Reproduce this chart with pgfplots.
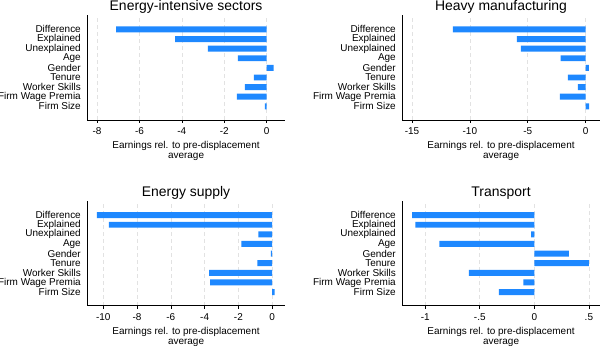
\documentclass[border=0pt]{standalone}
\usepackage{pgfplots}
\pgfplotsset{compat=1.18}
\usepackage{fontspec}
\setmainfont{Liberation Sans}
\definecolor{barblue}{RGB}{30,136,255}
\definecolor{gridgray}{RGB}{226,226,226}
\pgfplotsset{
  every axis title/.style={at={(0.5,1)}, anchor=base, yshift=4bp, font=\fontsize{14}{16}\selectfont},
  panel/.style={
    scale only axis, width=197.5bp, height=105bp, anchor=south west,
    xbar, bar width=0.62,
    axis x line*=bottom, axis y line*=left,
    axis line style={-, black, line width=0.8bp},
    ymin=-0.42, ymax=10.5,
    ytick={1,...,9},
    yticklabels={Firm Size, Firm Wage Premia, Worker Skills, Tenure, Gender, Age, Unexplained, Explained, Difference},
    y tick style={draw=none},
    ytick pos=left, xtick pos=bottom,
    x tick style={black, line width=0.6bp},
    tick align=outside, major tick length=3bp,
    xmajorgrids,
    grid style={gridgray, dash pattern=on 4bp off 3bp, line width=0.6bp},
    tick label style={font=\fontsize{10}{11}\selectfont},
    xticklabel style={yshift=-1bp},
    /pgf/number format/assume math mode=true,
    xlabel={Earnings rel. to pre-displacement\\average},
    xlabel style={align=center, font=\fontsize{10}{10}\selectfont, at={(axis description cs:0.5,0)}, anchor=north, yshift=-18bp},
  },
  bars/.style={fill=barblue, draw=none},
}
\begin{document}
\begin{tikzpicture}
\useasboundingbox (0,0) rectangle (600bp,346bp);
% Panel 1
\begin{axis}[panel, at={(87.3bp,226bp)}, title={Energy-intensive sectors},
  xmin=-8.46, xmax=0.86, xtick={-8,-6,-4,-2,0}, xticklabels={-8,-6,-4,-2,0}]
\addplot[bars] coordinates {(-7.10,9) (-4.32,8) (-2.77,7) (-1.35,6) (0.33,5) (-0.60,4) (-1.02,3) (-1.40,2) (-0.08,1)};
\end{axis}
% Panel 2
\begin{axis}[panel, at={(402.3bp,226bp)}, title={Heavy manufacturing},
  xmin=-15.84, xmax=1.23, xtick={-15,-10,-5,0}, xticklabels={-15,-10,-5,0}]
\addplot[bars] coordinates {(-11.46,9) (-5.93,8) (-5.59,7) (-2.16,6) (0.29,5) (-1.53,4) (-0.66,3) (-2.22,2) (0.30,1)};
\end{axis}
% Panel 3
\begin{axis}[panel, at={(87.3bp,40.3bp)}, title={Energy supply},
  xmin=-10.95, xmax=0.75, xtick={-10,-8,-6,-4,-2,0}, xticklabels={-10,-8,-6,-4,-2,0}]
\addplot[bars] coordinates {(-10.38,9) (-9.67,8) (-0.81,7) (-1.82,6) (-0.07,5) (-0.87,4) (-3.73,3) (-3.67,2) (0.14,1)};
\end{axis}
% Panel 4
\begin{axis}[panel, at={(402.3bp,40.3bp)}, title={Transport},
  xmin=-1.21, xmax=0.60, xtick={-1,-0.5,0,0.5}, xticklabels={-1,-.5,0,.5}]
\addplot[bars] coordinates {(-1.12,9) (-1.09,8) (-0.03,7) (-0.87,6) (0.317,5) (0.50,4) (-0.60,3) (-0.10,2) (-0.325,1)};
\end{axis}
\end{tikzpicture}
\end{document}
